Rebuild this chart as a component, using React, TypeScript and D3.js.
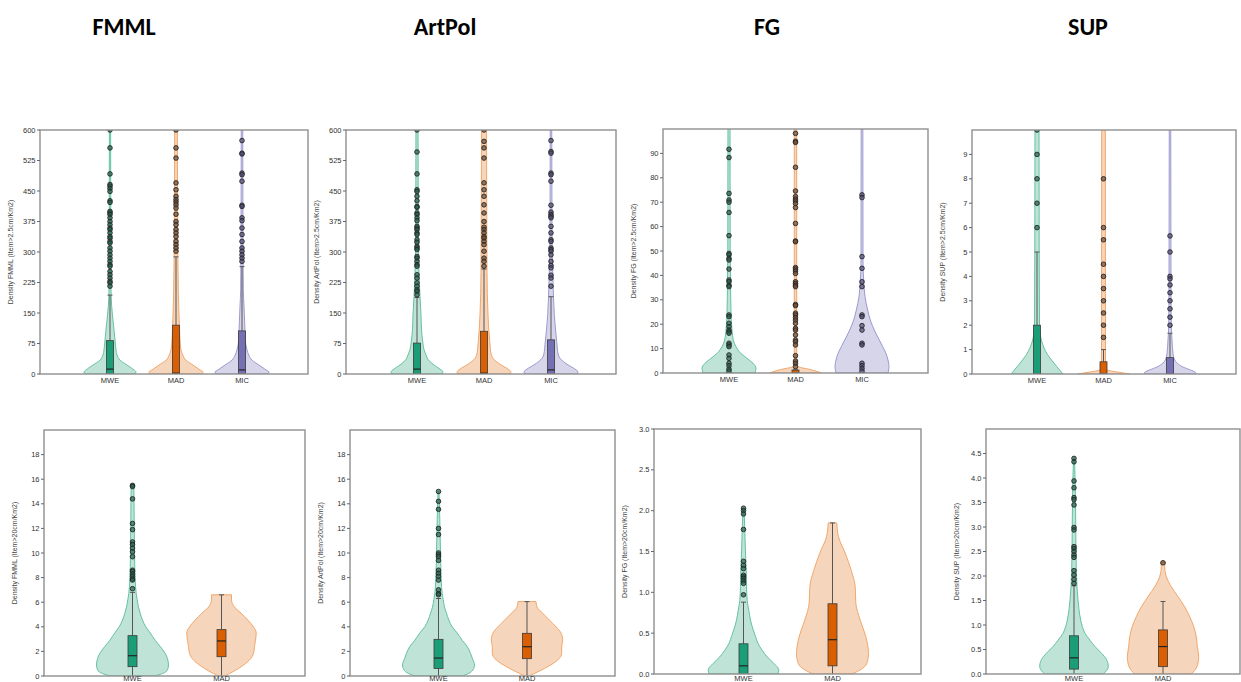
import React from "react";
import * as d3 from "d3";

// ---------- categories & labels ----------
const titles = ["FMML", "ArtPol", "FG", "SUP"];
const catsTop = ["MWE", "MAD", "MIC"];
const catsBottom = ["MWE", "MAD"];
const seriesColor: Record<string, string> = { MWE: "#1b9e77", MAD: "#d95f02", MIC: "#7570b3" };
const pointFill: Record<string, string> = { MWE: "#1f5e4a", MAD: "#6e4a30", MIC: "#4d4a78" };
const violinFill: Record<string, string> = { MWE: "#bfe3d6", MAD: "#f6d5bd", MIC: "#d6d5ea" };
const violinStroke: Record<string, string> = { MWE: "#63c29f", MAD: "#f2a769", MIC: "#9c99cf" };

// ---------- tick values ----------
const ticksTop600 = [0, 75, 150, 225, 300, 375, 450, 525, 600];
const ticksTopFG = [0, 10, 20, 30, 40, 50, 60, 70, 80, 90];
const ticksTopSUP = [0, 1, 2, 3, 4, 5, 6, 7, 8, 9];
const ticksBot20 = [0, 2, 4, 6, 8, 10, 12, 14, 16, 18];
const ticksBotFG = [0, 0.5, 1, 1.5, 2, 2.5, 3];
const ticksBotSUP = [0, 0.5, 1, 1.5, 2, 2.5, 3, 3.5, 4, 4.5];

// ---------- violin density profiles: [value, density] ----------
const fmmlTopMWE = [[0, 25], [5, 26], [10, 24], [22, 17], [34, 10], [47, 7], [59, 6], [84, 5], [125, 3.3], [166, 1.7], [207, 1], [300, 0.8], [650, 0.6]];
const fmmlTopMAD = [[0, 26], [5, 27], [10, 24], [22, 17], [34, 10], [47, 6.7], [59, 5], [84, 4], [125, 3.3], [166, 2.7], [207, 2.3], [300, 1.8], [450, 1.5], [650, 1.3]];
const fmmlTopMIC = [[0, 26], [5, 27], [10, 24], [22, 17], [34, 10], [47, 6.7], [59, 5], [84, 3.3], [125, 2.7], [166, 2], [207, 1.3], [300, 1], [650, 0.7]];

const artTopMWE = [[0, 25], [5, 26], [12, 23], [24, 16], [36, 11], [47, 9], [60, 7], [80, 5.7], [110, 4.5], [146, 4], [190, 3], [228, 2.3], [300, 1.5], [650, 1]];
const artTopMAD = [[0, 26], [5, 27], [12, 24], [24, 16], [36, 10], [47, 7.3], [80, 5.7], [146, 4], [250, 3], [650, 2.5]];
const artTopMIC = [[0, 26], [5, 27], [12, 24], [24, 16], [36, 10], [47, 7.3], [80, 5.7], [146, 3.3], [228, 2], [350, 1], [650, 0.7]];

const fgTopMWE = [[0, 26], [2, 27], [4, 24], [6, 18], [8, 12], [11, 6.7], [13.5, 4.3], [17.6, 3], [24.5, 2], [31, 1.7], [50, 1.2], [110, 1]];
const fgTopMAD = [[0, 26], [1.3, 16], [2.6, 2.7], [3.5, 1.2], [110, 1.2]];
const fgTopMIC = [[0, 26], [2.6, 27], [5.3, 26], [8, 24], [10.8, 20.7], [13.5, 17.3], [17.6, 12.3], [21.7, 8.3], [25.8, 5.7], [31.3, 3], [38, 1.7], [45, 1], [110, 0.8]];

const supTopMWE = [[0, 26], [0.6, 14], [0.8, 10.5], [1.05, 7.3], [1.3, 5], [1.6, 3.3], [2, 2.5], [5, 2.2], [11, 2]];
const supTopMAD = [[0, 26], [0.08, 14], [0.16, 4], [0.25, 2], [11, 1.8]];
const supTopMIC = [[0, 26], [0.08, 25], [0.16, 20.7], [0.3, 12.3], [0.44, 7.3], [0.57, 4.7], [0.85, 3], [1.4, 2], [1.9, 1.3], [3, 1], [11, 0.7]];

const fmmlBotMWE = [[0, 22], [0.2, 30], [0.5, 35], [0.9, 36], [1.4, 35], [1.84, 32.7], [2.4, 27.7], [2.9, 22.7], [3.5, 17.7], [4, 13.3], [4.55, 10], [5.1, 7.7], [5.6, 6], [6.2, 4.7], [6.7, 3.7], [7.3, 3], [8.6, 2.3], [10, 2], [12.7, 1.7], [15.4, 1.3], [15.6, 0.5]];
const fmmlBotMAD = [[0, 3], [0.2, 8], [0.76, 19.7], [1.3, 28], [1.84, 32], [2.4, 33], [2.9, 34], [3.5, 34.7], [4, 32], [4.55, 26.3], [5.1, 19.7], [5.6, 13], [6.2, 10], [6.6, 10]];
const artBotMWE = [[0, 23.7], [0.2, 30], [0.5, 34.5], [0.9, 36], [1.4, 34], [1.84, 32], [2.4, 28.7], [2.9, 23.7], [3.5, 18.7], [4, 13.7], [4.55, 10.3], [5.1, 8], [5.6, 6], [6.2, 4.7], [6.7, 3.7], [7.8, 2.7], [10, 2], [12.7, 1.3], [15, 0.5]];
const artBotMAD = [[0, 2.3], [0.2, 7.3], [0.76, 20.7], [1.3, 30.7], [1.84, 34.7], [2.4, 34.7], [2.9, 35.7], [3.5, 34], [4, 29], [4.55, 22.3], [5.1, 15.7], [5.6, 10], [6.05, 9]];
const fgBotMWE = [[0, 34.3], [0.05, 35.3], [0.13, 30.3], [0.21, 23.7], [0.29, 18.7], [0.38, 14.3], [0.46, 12], [0.54, 9.7], [0.66, 7], [0.78, 5.3], [0.9, 3.7], [1.07, 3], [1.27, 2.7], [1.48, 2], [1.76, 1.3], [2.03, 0.5]];
const fgBotMAD = [[0, 19.3], [0.05, 27.7], [0.13, 34.3], [0.25, 36], [0.46, 33.3], [0.66, 27.7], [0.87, 23.3], [1.07, 22.7], [1.27, 18.7], [1.48, 12.7], [1.68, 6], [1.85, 4.3]];
const supBotMWE = [[0, 29.3], [0.15, 34.3], [0.29, 32.7], [0.42, 27.7], [0.56, 21], [0.69, 16], [0.83, 11], [0.97, 8.3], [1.1, 6.7], [1.31, 5], [1.51, 4], [1.78, 3], [2.12, 2.3], [2.46, 2], [3.14, 1.7], [3.82, 1.3], [4.4, 0.5]];
const supBotMAD = [[0, 28.3], [0.15, 34], [0.35, 35.7], [0.56, 34.3], [0.76, 33.3], [0.97, 30.7], [1.17, 26.7], [1.37, 21.7], [1.58, 15], [1.78, 8.3], [1.99, 3.3], [2.19, 1.7], [2.28, 2.5]];

// ---------- box stats: [whiskerLow, q1, median, q3, whiskerHigh] ----------
const fmmlTopBoxMWE = [0, 0, 12, 82, 194];
const fmmlTopBoxMAD = [0, 0, 2, 120, 288];
const fmmlTopBoxMIC = [0, 0, 10, 106, 264];
const artTopBoxMWE = [0, 0, 12, 76, 188];
const artTopBoxMAD = [0, 0, 2, 105, 258];
const artTopBoxMIC = [0, 0, 10, 84, 190];
const fgTopBoxMWE = [0, 0, 0, 0, 0];
const fgTopBoxMAD = [0, 0, 0, 1.2, 1.3];
const fgTopBoxMIC = [0, 0, 0, 0, 0];
const supTopBoxMWE = [0, 0, 0, 2, 5];
const supTopBoxMAD = [0, 0, 0, 0.5, 1];
const supTopBoxMIC = [0, 0, 0, 0.67, 1.67];
const fmmlBotBoxMWE = [0, 0.76, 1.65, 3.28, 6.8];
const fmmlBotBoxMAD = [0, 1.57, 2.85, 3.77, 6.6];
const artBotBoxMWE = [0, 0.62, 1.46, 2.98, 6.3];
const artBotBoxMAD = [0, 1.41, 2.38, 3.47, 6.05];
const fgBotBoxMWE = [0, 0, 0.1, 0.37, 0.88];
const fgBotBoxMAD = [0, 0.1, 0.42, 0.86, 1.85];
const supBotBoxMWE = [0, 0.1, 0.33, 0.78, 1.8];
const supBotBoxMAD = [0, 0.15, 0.56, 0.9, 1.48];

// ---------- outliers ----------
const fmmlTopOutMWE = [600, 556, 492, 466, 462, 456, 449, 426, 422, 400, 396, 392, 384, 375, 367, 359, 355, 347, 338, 334, 326, 322, 310, 302, 293, 285, 277, 269, 265, 252, 244, 236, 228, 224, 216];
const fmmlTopOutMAD = [600, 556, 531, 470, 453, 437, 429, 423, 416, 408, 393, 375, 367, 355, 347, 338, 326, 318, 310, 302];
const fmmlTopOutMIC = [574, 543, 541, 494, 490, 474, 415, 412, 384, 377, 359, 343, 326, 310, 302, 293, 285, 277];
const artTopOutMWE = [600, 546, 492, 453, 449, 437, 426, 412, 410, 396, 392, 384, 377, 363, 359, 355, 347, 343, 330, 324, 314, 310, 306, 289, 285, 277, 269, 265, 244, 236, 224, 216, 207, 203, 195];
const artTopOutMAD = [600, 572, 556, 531, 470, 453, 437, 416, 396, 375, 361, 355, 347, 338, 334, 326, 318, 302, 285, 277, 265];
const artTopOutMIC = [574, 547, 543, 494, 490, 474, 415, 398, 392, 388, 384, 363, 347, 330, 326, 310, 306, 302, 293, 277, 267, 261, 243, 236, 216];
const fgTopOutMWE = [91.7, 88.3, 73.6, 70.9, 70, 65.8, 56.3, 49, 48.4, 47, 46.3, 42.6, 38.1, 37.4, 36, 35.4, 23.8, 23.1, 20.4, 19, 17.6, 16.9, 16.3, 12.2, 11.5, 10.8, 7.4, 6, 4, 3, 1.6, 0.8];
const fgTopOutMAD = [98.2, 95, 94.5, 84.3, 74.6, 72.3, 71.3, 70.5, 69.5, 67.8, 61.3, 54.1, 53.8, 43.2, 42.6, 41.8, 40.8, 37.4, 36.7, 36, 35.4, 28.1, 27.6, 24.5, 23.8, 22.7, 21.7, 20.4, 18.3, 17.6, 15.6, 13.5, 12.8, 11.5, 7.1, 4.9, 4, 2.6];
const fgTopOutMIC = [73, 71.9, 47.7, 42.9, 37.4, 35.4, 23.8, 23.1, 19.4, 17.6, 12.2, 11.5, 4, 3, 1.9, 0.8];
const supTopOutMWE = [10, 9, 8, 7, 6];
const supTopOutMAD = [8, 6, 5.5, 4.5, 4, 3.5, 3, 2.5, 2, 1.5];
const supTopOutMIC = [5.66, 5, 4, 3.9, 3.65, 3.33, 3, 2.67, 2.33, 2];
const fmmlBotOutMWE = [15.5, 15.4, 14.4, 12.4, 11.9, 10.9, 10.7, 10.4, 10.1, 9.7, 8.6, 8.5, 8.3, 8.1, 7.9, 7.8, 7.1];
const fmmlBotOutMAD: number[] = [];
const artBotOutMWE = [15, 14.2, 13.55, 12, 11.5, 10, 9.85, 9.7, 9.4, 8.6, 8.35, 8.1, 7.8, 7, 6.7, 6.6];
const artBotOutMAD: number[] = [];
const fgBotOutMWE = [2.03, 2.0, 1.96, 1.77, 1.38, 1.33, 1.29, 1.21, 1.19, 1.17, 1.14, 1.11, 0.97];
const fgBotOutMAD: number[] = [];
const supBotOutMWE = [4.4, 4.33, 3.94, 3.8, 3.6, 3.56, 3.45, 2.99, 2.94, 2.6, 2.56, 2.5, 2.43, 2.38, 2.11, 2.02, 1.93, 1.85];
const supBotOutMAD = [2.27];

// ---------- layout ----------
const titleX = [124, 445, 767, 1088];

type Panel = {
  id: string; left: number; right: number; top: number; bottom: number;
  xRange: [number, number]; domain: [number, number]; ticks: number[]; fmt: (d: number) => string;
  yLabel: string; cats: string[]; profiles: number[][][]; boxes: number[][]; outliers: number[][];
  maxDensity: number; maxHalfWidth: number; boxW: number;
};

const intFmt = (d: number) => String(d);
const decFmt = d3.format(".1f");

const panels: Panel[] = [
  { id: "p1", left: 40, right: 308, top: 130, bottom: 374, xRange: [110, 242], domain: [0, 600], ticks: ticksTop600, fmt: intFmt,
    yLabel: "Density FMML (Item>2.5cm/Km2)", cats: catsTop, profiles: [fmmlTopMWE, fmmlTopMAD, fmmlTopMIC],
    boxes: [fmmlTopBoxMWE, fmmlTopBoxMAD, fmmlTopBoxMIC], outliers: [fmmlTopOutMWE, fmmlTopOutMAD, fmmlTopOutMIC], maxDensity: 27, maxHalfWidth: 27, boxW: 7 },
  { id: "p2", left: 346, right: 616, top: 130, bottom: 374, xRange: [417, 551], domain: [0, 600], ticks: ticksTop600, fmt: intFmt,
    yLabel: "Density ArtPol (Item>2.5cm/Km2)", cats: catsTop, profiles: [artTopMWE, artTopMAD, artTopMIC],
    boxes: [artTopBoxMWE, artTopBoxMAD, artTopBoxMIC], outliers: [artTopOutMWE, artTopOutMAD, artTopOutMIC], maxDensity: 27, maxHalfWidth: 27, boxW: 7 },
  { id: "p3", left: 663, right: 928, top: 129, bottom: 373, xRange: [729, 862], domain: [0, 100], ticks: ticksTopFG, fmt: intFmt,
    yLabel: "Density FG (Item>2.5cm/Km2)", cats: catsTop, profiles: [fgTopMWE, fgTopMAD, fgTopMIC],
    boxes: [fgTopBoxMWE, fgTopBoxMAD, fgTopBoxMIC], outliers: [fgTopOutMWE, fgTopOutMAD, fgTopOutMIC], maxDensity: 27, maxHalfWidth: 27, boxW: 7 },
  { id: "p4", left: 972, right: 1236, top: 130, bottom: 374, xRange: [1037, 1170], domain: [0, 10], ticks: ticksTopSUP, fmt: intFmt,
    yLabel: "Density SUP (Item>2.5cm/Km2)", cats: catsTop, profiles: [supTopMWE, supTopMAD, supTopMIC],
    boxes: [supTopBoxMWE, supTopBoxMAD, supTopBoxMIC], outliers: [supTopOutMWE, supTopOutMAD, supTopOutMIC], maxDensity: 27, maxHalfWidth: 27, boxW: 7 },
  { id: "p5", left: 44, right: 305, top: 430, bottom: 676, xRange: [132.5, 221.5], domain: [0, 20], ticks: ticksBot20, fmt: intFmt,
    yLabel: "Density FMML (Item>20cm/Km2)", cats: catsBottom, profiles: [fmmlBotMWE, fmmlBotMAD],
    boxes: [fmmlBotBoxMWE, fmmlBotBoxMAD], outliers: [fmmlBotOutMWE, fmmlBotOutMAD], maxDensity: 36, maxHalfWidth: 36, boxW: 9 },
  { id: "p6", left: 350, right: 615, top: 430, bottom: 676, xRange: [438.5, 527], domain: [0, 20], ticks: ticksBot20, fmt: intFmt,
    yLabel: "Density ArtPol (Item>20cm/Km2)", cats: catsBottom, profiles: [artBotMWE, artBotMAD],
    boxes: [artBotBoxMWE, artBotBoxMAD], outliers: [artBotOutMWE, artBotOutMAD], maxDensity: 36, maxHalfWidth: 36, boxW: 9 },
  { id: "p7", left: 654, right: 921, top: 429, bottom: 674, xRange: [743.5, 832.5], domain: [0, 3], ticks: ticksBotFG, fmt: decFmt,
    yLabel: "Density FG (Item>20cm/Km2)", cats: catsBottom, profiles: [fgBotMWE, fgBotMAD],
    boxes: [fgBotBoxMWE, fgBotBoxMAD], outliers: [fgBotOutMWE, fgBotOutMAD], maxDensity: 36, maxHalfWidth: 36, boxW: 9 },
  { id: "p8", left: 986, right: 1240, top: 429, bottom: 674, xRange: [1074, 1163], domain: [0, 5], ticks: ticksBotSUP, fmt: decFmt,
    yLabel: "Density SUP (Item>20cm/Km2)", cats: catsBottom, profiles: [supBotMWE, supBotMAD],
    boxes: [supBotBoxMWE, supBotBoxMAD], outliers: [supBotOutMWE, supBotOutMAD], maxDensity: 36, maxHalfWidth: 36, boxW: 9 },
];

const axisFont = "'Liberation Sans', Arial, sans-serif";

function PanelView({ p }: { p: Panel }) {
  const y = d3.scaleLinear().domain(p.domain).range([p.bottom, p.top]);
  const x = d3.scalePoint<string>().domain(p.cats).range(p.xRange);
  const w = d3.scaleLinear().domain([0, p.maxDensity]).range([0, p.maxHalfWidth]);
  return (
    <g>
      <defs>
        <clipPath id={`clip-${p.id}`}>
          <rect x={p.left} y={p.top} width={p.right - p.left} height={p.bottom - p.top} />
        </clipPath>
      </defs>
      <g clipPath={`url(#clip-${p.id})`}>
        {p.cats.map((c, i) => {
          const cx = x(c) as number;
          const area = d3
            .area<number[]>()
            .curve(d3.curveMonotoneY)
            .y((d) => y(d[0]))
            .x0((d) => cx - w(d[1]))
            .x1((d) => cx + w(d[1]));
          const [lo, q1, med, q3, hi] = p.boxes[i];
          const bw = p.boxW;
          return (
            <g key={c}>
              <path d={area(p.profiles[i] as any) || ""} fill={violinFill[c]} stroke={violinStroke[c]} strokeWidth={1} />
              <line x1={cx} x2={cx} y1={y(lo)} y2={y(q1)} stroke="#555" strokeWidth={1} />
              <line x1={cx} x2={cx} y1={y(q3)} y2={y(hi)} stroke="#555" strokeWidth={1} />
              <line x1={cx - 2.5} x2={cx + 2.5} y1={y(hi)} y2={y(hi)} stroke="#555" strokeWidth={1} />
              <rect x={cx - bw / 2} y={y(q3)} width={bw} height={Math.max(0, y(q1) - y(q3))} fill={seriesColor[c]} stroke="#3a3a3a" strokeWidth={0.8} />
              <line x1={cx - bw / 2} x2={cx + bw / 2} y1={y(med)} y2={y(med)} stroke="#222" strokeWidth={1.2} />
              {p.outliers[i].map((v, k) => (
                <circle key={k} cx={cx} cy={y(v)} r={2.3} fill={pointFill[c]} fillOpacity={0.7} stroke="#262626" strokeWidth={0.9} />
              ))}
            </g>
          );
        })}
      </g>
      <rect x={p.left} y={p.top} width={p.right - p.left} height={p.bottom - p.top} fill="none" stroke="#8f8f8f" strokeWidth={1.4} />
      {p.ticks.map((t) => (
        <g key={t}>
          <line x1={p.left - 3} x2={p.left} y1={y(t)} y2={y(t)} stroke="#666" strokeWidth={1} />
          <text x={p.left - 4.5} y={y(t)} dy="0.34em" textAnchor="end" fontSize={7.5} fill="#333" fontFamily={axisFont}>
            {p.fmt(t)}
          </text>
        </g>
      ))}
      {p.cats.map((c) => (
        <text key={c} x={x(c) as number} y={Math.min(p.bottom + 9, 681)} textAnchor="middle" fontSize={7.5} fill="#333" fontFamily={axisFont}>
          {c}
        </text>
      ))}
      <text
        transform={`translate(${p.left - 27},${(p.top + p.bottom) / 2}) rotate(-90)`}
        textAnchor="middle"
        fontSize={7}
        fill="#444"
        fontFamily={axisFont}
      >
        {p.yLabel}
      </text>
    </g>
  );
}

export default function App() {
  return (
    <svg width={1241} height={682} style={{ position: "absolute", left: 0, top: 0, background: "#fff" }}>
      <rect x={0} y={0} width={1241} height={682} fill="#fff" />
      {titles.map((t, i) => (
        <text key={t} x={titleX[i]} y={35} textAnchor="middle" fontSize={24} fontWeight="bold" fontFamily="Carlito, Lato, 'Open Sans', sans-serif" fill="#000">
          {t}
        </text>
      ))}
      {panels.map((p) => (
        <PanelView key={p.id} p={p} />
      ))}
    </svg>
  );
}
